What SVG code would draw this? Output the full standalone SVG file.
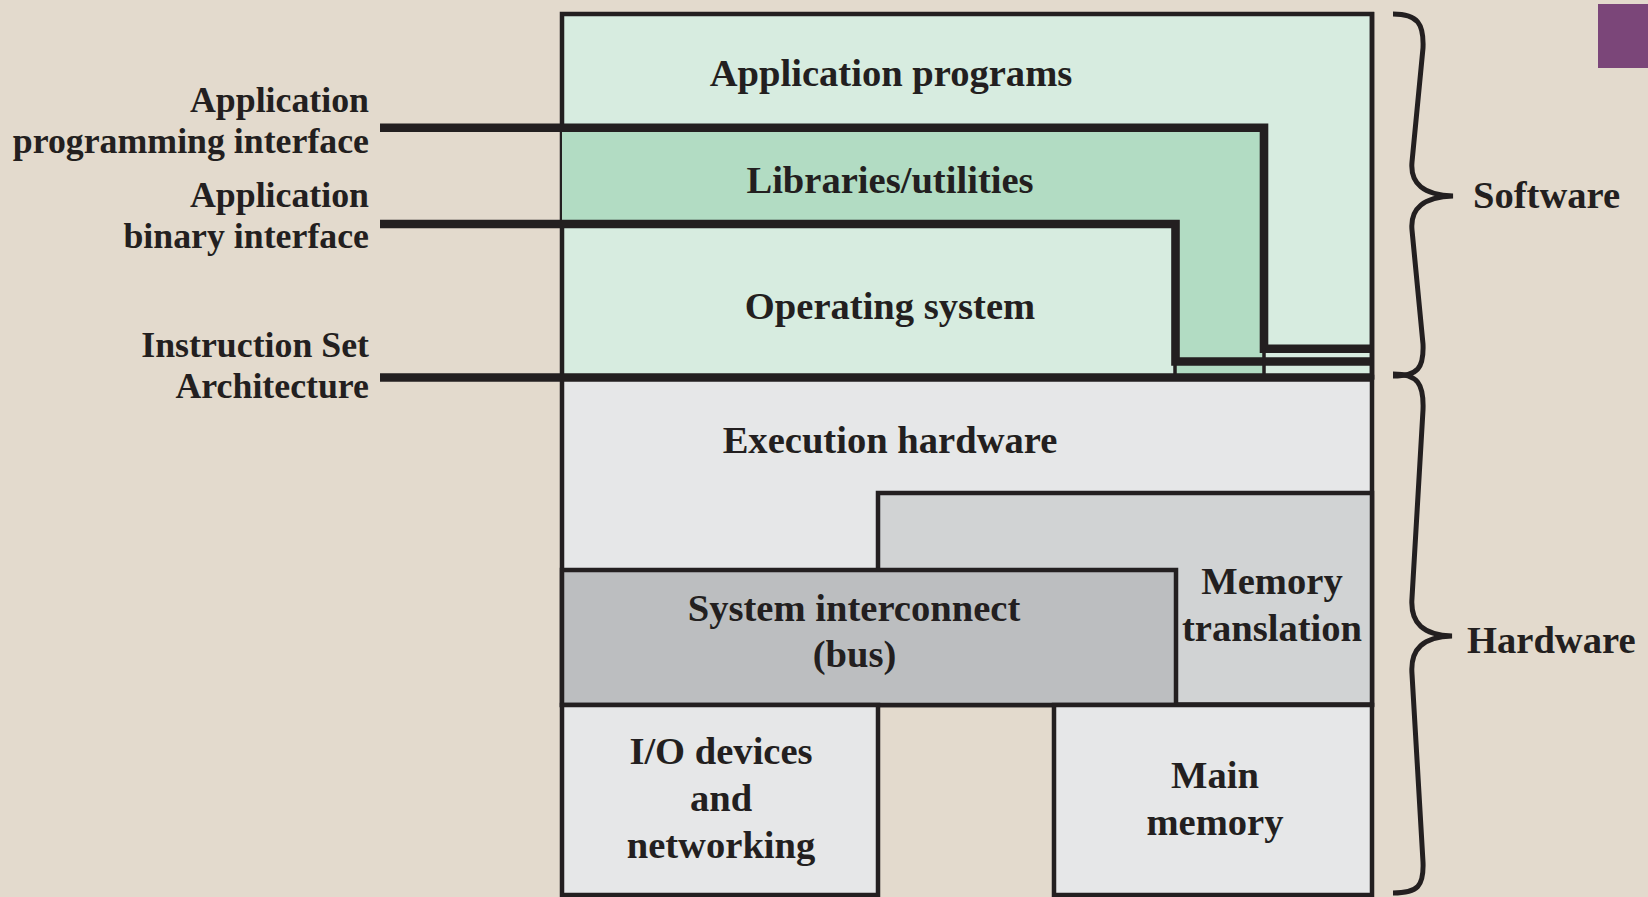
<svg xmlns="http://www.w3.org/2000/svg" width="1648" height="897" viewBox="0 0 1648 897">
<style>
.t{font-family:"Liberation Serif","Times New Roman",serif;font-weight:bold;fill:#231f20;font-size:38.6px;text-anchor:middle}
.lbl{font-family:"Liberation Serif","Times New Roman",serif;font-weight:bold;fill:#231f20;font-size:35.8px;text-anchor:end}
.side{font-family:"Liberation Serif","Times New Roman",serif;font-weight:bold;fill:#231f20;font-size:38.6px;text-anchor:start}
.box{stroke:#231f20;stroke-width:4.5}
.iface{fill:none;stroke:#231f20;stroke-width:8.6;stroke-linejoin:miter;stroke-linecap:butt}
.thin{fill:none;stroke:#231f20;stroke-width:3.5}
.brace{fill:none;stroke:#231f20;stroke-width:5;stroke-linecap:butt}
</style>
<rect width="1648" height="897" fill="#e3dacd"/>
<rect x="1598" y="4" width="50" height="64" fill="#7b4679"/>

<g id="software-area">
  <rect id="app-programs" class="box" x="562" y="14" width="810" height="363" fill="#d7ece0"/>
  <path id="libraries-fill" d="M562,128 L1264,128 L1264,377 L1175,377 L1175,224 L562,224 Z" fill="#b2dcc3"/>
</g>
<g id="hardware-area">
  <rect id="exec-hw" class="box" x="562" y="377" width="810" height="328" fill="#e6e7e8"/>
  <rect id="mem-trans" class="box" x="878" y="493" width="494" height="211.5" fill="#d1d3d4"/>
  <rect id="sys-bus" class="box" x="562" y="570" width="614" height="135" fill="#bcbec0"/>
  <rect id="io" class="box" x="562" y="705" width="316" height="190" fill="#e6e7e8"/>
  <rect id="main-mem" class="box" x="1054" y="705" width="318" height="190" fill="#e6e7e8"/>
</g>

<g id="connectors">
  <polyline id="api-line" class="iface" points="380,127.8 1264,127.8 1264,348.8 1372,348.8"/>
  <polyline id="abi-line" class="iface" points="380,224 1175.5,224 1175.5,361.5 1372,361.5"/>
  <line class="thin" x1="1175" y1="361" x2="1175" y2="376"/>
  <line class="thin" x1="1264" y1="348" x2="1264" y2="376"/>
  <line id="isa-line" class="iface" x1="380" y1="377.5" x2="1372" y2="377.5"/>
  <line class="box" x1="1372" y1="12" x2="1372" y2="380" fill="none"/>
</g>

<g id="layer-texts">
  <text class="t" x="891" y="85.7">Application programs</text>
  <text class="t" x="890" y="192.7">Libraries/utilities</text>
  <text class="t" x="890" y="319.3">Operating system</text>
  <text class="t" x="890" y="453.3">Execution hardware</text>
  <text class="t" x="854" y="620.7">System interconnect</text>
  <text class="t" x="854.5" y="666.7">(bus)</text>
  <text class="t" x="1272" y="594">Memory</text>
  <text class="t" x="1272" y="641">translation</text>
  <text class="t" x="721" y="764.3">I/O devices</text>
  <text class="t" x="721" y="811">and</text>
  <text class="t" x="721" y="858.3">networking</text>
  <text class="t" x="1215" y="788.3">Main</text>
  <text class="t" x="1215" y="835">memory</text>
</g>

<g id="interface-labels">
  <text class="lbl" x="369" y="112.3">Application</text>
  <text class="lbl" x="369" y="152.7">programming interface</text>
  <text class="lbl" x="369" y="206.7">Application</text>
  <text class="lbl" x="369" y="247.7">binary interface</text>
  <text class="lbl" x="369" y="356.7">Instruction Set</text>
  <text class="lbl" x="369" y="398.3">Architecture</text>
</g>

<g id="software-brace">
  <path class="brace" d="M1393,14 C1418,14 1424,24 1423,48 L1412,162 C1410,184 1424,195 1453,196 C1424,197 1410,208 1412,230 L1423,344 C1424,368 1418,376 1393,376"/>
  <text class="side" x="1473" y="208">Software</text>
</g>
<g id="hardware-brace">
  <path class="brace" d="M1393,374 C1418,374 1424,384 1423,410 L1412,598 C1410,624 1424,635 1452,636 C1424,637 1410,648 1412,674 L1423,862 C1424,886 1418,893 1393,893"/>
  <text class="side" x="1467" y="652.7">Hardware</text>
</g>
</svg>
